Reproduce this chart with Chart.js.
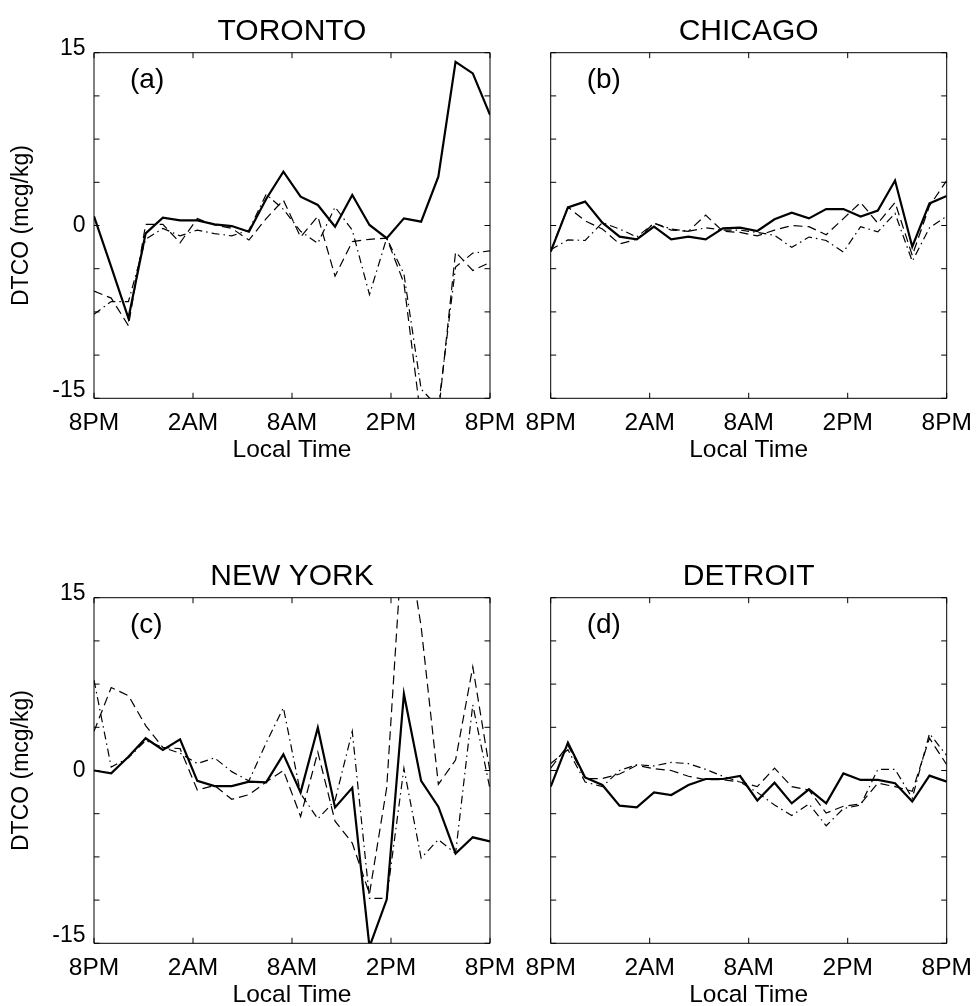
<!DOCTYPE html>
<html>
<head>
<meta charset="utf-8">
<script src="https://cdn.jsdelivr.net/npm/chart.js@4.4.1/dist/chart.umd.min.js"></script>
<style>
  html, body { margin:0; padding:0; background:#fff; overflow:hidden; width:976px; height:1006px; position:relative; }
  .panel { position:absolute; }
  canvas { display:block; }
</style>
</head>
<body>
<div class="panel" style="left:0px;top:0px;"><canvas id="cA" width="530" height="480"></canvas></div>
<div class="panel" style="left:500px;top:0px;"><canvas id="cB" width="500" height="480"></canvas></div>
<div class="panel" style="left:0px;top:545px;"><canvas id="cC" width="530" height="480"></canvas></div>
<div class="panel" style="left:500px;top:545px;"><canvas id="cD" width="500" height="480"></canvas></div>
<script>
// ---------------- DATA ----------------
const localHours = ['8PM','9PM','10PM','11PM','12AM','1AM','2AM','3AM','4AM','5AM','6AM','7AM',
                    '8AM','9AM','10AM','11AM','12PM','1PM','2PM','3PM','4PM','5PM','6PM','7PM'];
const xTickLabels = ['8PM','2AM','8AM','2PM','8PM'];
const yTicks = [-15, -11.25, -7.5, -3.75, 0, 3.75, 7.5, 11.25, 15];
const yTickLabels = ['-15','','','','0','','','','15'];

const torontoSolid   = [0.8, -3.6, -8.05, -0.68, 0.68, 0.45, 0.45, 0.1, -0.05, -0.54, 2.3, 4.67, 2.5, 1.78, -0.1, 2.65, 0.05, -1.1, 0.62, 0.33, 4.24, 14.2, 13.2, 9.6];
const torontoDashed  = [-5.7, -6.3, -8.7, 0.1, 0.1, -1.5, 0.6, 0.05, -0.25, -1.26, 0.6, 2.2, -1.0, 0.8, -4.4, -1.4, -1.2, -1.1, -5.0, -16.9, -16.4, -2.3, -3.9, -3.2];
const torontoDashDot = [-7.7, -6.6, -6.6, -1.2, -0.25, -0.9, -0.4, -0.7, -0.9, -0.4, 2.7, 1.4, -0.5, -1.55, 1.6, -0.4, -6.0, -1.1, -4.2, -14.2, -15.8, -3.6, -2.4, -2.2];

const chicagoSolid   = [-2.27, 1.57, 2.07, 0.25, -0.97, -1.2, -0.1, -1.2, -0.97, -1.2, -0.25, -0.19, -0.48, 0.54, 1.11, 0.62, 1.43, 1.43, 0.77, 1.29, 3.9, -1.84, 1.92, 2.56];
const chicagoDashed  = [-2.2, 1.6, 0.4, -0.3, -1.6, -1.2, 0.2, -0.4, -0.5, 0.9, -0.5, -0.6, -0.9, -0.4, 0.0, -0.1, -0.8, 0.6, 2.0, 0.2, 2.0, -2.6, 1.7, 3.9];
const chicagoDashDot = [-2.1, -1.25, -1.3, 0.25, -0.3, -1.0, 0.2, -0.3, -0.5, -0.2, -0.4, -0.4, -0.6, -0.85, -1.9, -1.0, -1.3, -2.3, -0.1, -0.55, 1.05, -3.1, -0.2, 0.8];

const newYorkSolid   = [0, -0.25, 1.2, 2.8, 1.78, 2.7, -0.9, -1.35, -1.35, -0.97, -1.03, 1.4, -1.9, 3.72, -3.2, -1.5, -15.3, -11.2, 6.64, -0.9, -3.14, -7.2, -5.8, -6.15];
const newYorkDashed  = [3.4, 7.2, 6.5, 3.9, 2.0, 1.9, -1.7, -1.3, -2.5, -2.1, -1.0, 0.0, -4.0, 1.6, -4.4, -6.3, -10.7, -1.5, 22, 12.5, -1.2, 0.9, 9.0, -0.1];
const newYorkDashDot = [7.85, 0.3, 1.1, 2.6, 2.0, 1.5, 0.6, 1.1, -0.1, -0.9, 2.4, 5.45, -2.0, -4.2, -2.6, 3.4, -11.1, -11.1, 0.2, -7.6, -6.0, -7.2, 5.7, -1.6];

const detroitSolid   = [-1.4, 2.42, -0.6, -1.26, -3.05, -3.2, -1.9, -2.13, -1.26, -0.74, -0.74, -0.48, -2.6, -1.06, -2.85, -1.63, -2.85, -0.25, -0.82, -0.82, -1.1, -2.7, -0.45, -0.97];
const detroitDashed  = [0.2, 2.2, -0.7, -0.7, -0.3, 0.45, 0.15, 0.0, -0.5, -0.8, -0.8, -1.0, -1.4, 0.2, -1.4, -1.7, -3.7, -3.1, -2.9, -1.1, -1.4, -1.8, 2.8, 0.5];
const detroitDashDot = [0.6, 1.8, -1.0, -1.4, 0.0, 0.5, 0.4, 0.7, 0.6, 0.1, -0.5, -1.0, -1.9, -3.0, -3.9, -2.9, -4.8, -3.3, -3.0, 0.1, 0.1, -2.4, 3.2, 1.3];

// ---------------- HELPERS ----------------
const FONT = '"Liberation Sans", Arial, Helvetica, sans-serif';
Chart.defaults.color = '#000';
Chart.defaults.font.family = FONT;

const lastIndex = localHours.length - 1;
const xTickPositions = xTickLabels.map((_, k) => k * lastIndex / (xTickLabels.length - 1));

function toPoints(arr) { return arr.map((v, i) => ({ x: i, y: v })); }

const boxPlugin = {
  id: 'box',
  afterDatasetsDraw(chart, args, opts) {
    const { ctx, chartArea: a, scales } = chart;
    const x = scales.x, y = scales.y;
    const TL = 5.5;
    ctx.save();
    ctx.strokeStyle = '#000';
    ctx.lineWidth = 1;
    ctx.beginPath();
    ctx.rect(a.left, a.top, a.right - a.left, a.bottom - a.top);
    x.ticks.forEach(t => {
      const px = x.getPixelForValue(t.value);
      ctx.moveTo(px, a.bottom); ctx.lineTo(px, a.bottom - TL);
      ctx.moveTo(px, a.top); ctx.lineTo(px, a.top + TL);
    });
    y.ticks.forEach(t => {
      const py = y.getPixelForValue(t.value);
      ctx.moveTo(a.left, py); ctx.lineTo(a.left + TL, py);
      ctx.moveTo(a.right, py); ctx.lineTo(a.right - TL, py);
    });
    ctx.stroke();
    ctx.fillStyle = '#000';
    ctx.font = '28px ' + FONT;
    ctx.textBaseline = 'middle';
    ctx.textAlign = 'left';
    ctx.fillText(opts.label, a.left + 36, a.top + 28);
    ctx.restore();
  }
};

function makePanel(id, title, label, solid, dashed, dashDot, isLeft) {
  const yWidth = isLeft ? 94 : 50.7;
  const padRight = isLeft ? 40 : 53.3;
  new Chart(document.getElementById(id), {
    type: 'line',
    data: {
      datasets: [
        { label: 'dash-dot', data: toPoints(dashDot), borderColor: '#000', borderWidth: 1.2,
          borderDash: [8, 4, 1.5, 4], pointRadius: 0, tension: 0, fill: false },
        { label: 'dashed', data: toPoints(dashed), borderColor: '#000', borderWidth: 1.2,
          borderDash: [9, 5], pointRadius: 0, tension: 0, fill: false },
        { label: 'solid', data: toPoints(solid), borderColor: '#000', borderWidth: 2.2,
          pointRadius: 0, tension: 0, fill: false }
      ]
    },
    options: {
      responsive: false,
      animation: false,
      devicePixelRatio: 1,
      layout: { padding: { left: 0, right: padRight, top: 0, bottom: 0 } },
      plugins: {
        legend: { display: false },
        tooltip: { enabled: false },
        title: { display: true, fullSize: false, text: title, color: '#000',
                 font: { size: 30, weight: 'normal', family: FONT, lineHeight: 1.2 },
                 padding: { top: 14, bottom: 2.7 } },
        box: { label: label }
      },
      scales: {
        x: {
          type: 'linear', min: 0, max: lastIndex,
          grid: { display: false, drawTicks: false }, border: { display: false },
          afterBuildTicks: s => { s.ticks = xTickPositions.map(v => ({ value: v })); },
          afterFit: s => { s.height = 81.7; },
          ticks: { autoSkip: false, maxRotation: 0, padding: 10.2, color: '#000',
                   font: { size: 24.5, family: FONT, lineHeight: 1.2 },
                   callback: (v, i) => xTickLabels[i] },
          title: { display: true, text: 'Local Time', color: '#000',
                   font: { size: 24.5, family: FONT, lineHeight: 1.2 }, padding: { top: 0, bottom: 15 } }
        },
        y: {
          type: 'linear', min: -15, max: 15,
          grid: { display: false, drawTicks: false }, border: { display: false },
          afterBuildTicks: s => { s.ticks = yTicks.map(v => ({ value: v })); },
          afterFit: s => { s.width = yWidth; },
          ticks: { display: isLeft, autoSkip: false, padding: 8.5, color: '#000',
                   font: { size: 23, family: FONT, lineHeight: 0.33 },
                   callback: (v, i) => {
                     const t = yTickLabels[i];
                     if (i === 0) return [t, '', ''];
                     if (i === yTicks.length - 1) return [t, ''];
                     return t;
                   } },
          title: { display: isLeft, text: 'DTCO (mcg/kg)', color: '#000',
                   font: { size: 23, family: FONT, lineHeight: 1.2 }, padding: { top: 8.2, bottom: 0 } }
        }
      }
    },
    plugins: [boxPlugin]
  });
}

makePanel('cA', 'TORONTO', '(a)', torontoSolid, torontoDashed, torontoDashDot, true);
makePanel('cB', 'CHICAGO', '(b)', chicagoSolid, chicagoDashed, chicagoDashDot, false);
makePanel('cC', 'NEW YORK', '(c)', newYorkSolid, newYorkDashed, newYorkDashDot, true);
makePanel('cD', 'DETROIT', '(d)', detroitSolid, detroitDashed, detroitDashDot, false);
</script>
</body>
</html>
